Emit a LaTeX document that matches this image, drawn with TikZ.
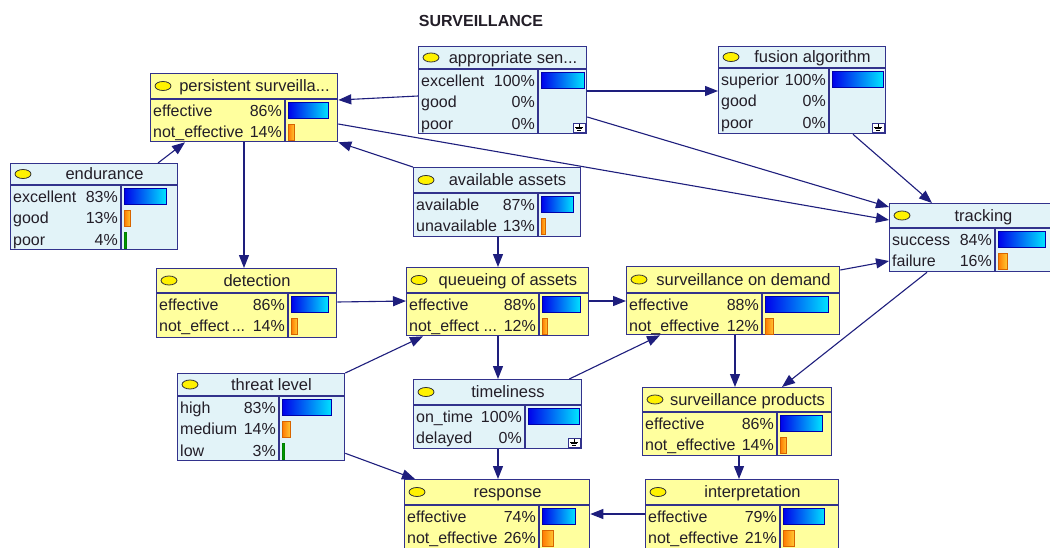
\documentclass[tikz,border=0pt]{standalone}
\usepackage{fontspec}
\setmainfont{Liberation Sans}
\usetikzlibrary{arrows.meta}
\definecolor{bfill}{RGB}{226,243,248}
\definecolor{yfill}{RGB}{255,255,158}
\definecolor{bord}{RGB}{50,50,140}
\definecolor{edgec}{RGB}{30,30,125}
\definecolor{txt}{RGB}{35,30,40}
\definecolor{barL}{RGB}{0,0,235}
\definecolor{barR}{RGB}{0,228,255}
\definecolor{barB}{RGB}{0,0,170}
\definecolor{orL}{RGB}{255,120,0}
\definecolor{orR}{RGB}{255,200,50}
\definecolor{orB}{RGB}{215,100,0}
\newcommand{\bnnode}[9]{%
  \node[#2, minimum width={(#5)-(#3)}, minimum height={(#6)-(#4)}] (#1) at (#3,#4) {};
  \draw[sepl] (#3,#7) -- (#5,#7) (#8,#7) -- (#8,#6);
  \draw[ico] ({#3+13},{(#4+#7)/2}) ellipse (8 and 4.5);
  \node[ttl] at ({(#3+22+#5)/2},{(#4+#7)/2+5.5}) {#9};
}
\newcommand{\st}[9]{%
  \node[lbl] at ({#1+3},{#4+11.5+21.8*#5+5.5}) {#6};
  \node[pct] at ({#2-3},{#4+11.5+21.8*#5+5.5}) {#7};
  \path[#8] ({#2+3},{#4+11.5+21.8*#5-8}) rectangle ({#2+3+#9*(#3-#2-5)/100},{#4+11.5+21.8*#5+8});
}
\newcommand{\expico}[2]{%
  \draw[draw=bord, line width=0.8pt, fill=white] ({#1-13},{#2-10}) rectangle ({#1-1},{#2-1});
  \draw[black, line width=0.7pt] ({#1-7},{#2-9}) -- ({#1-7},{#2-6})
    ({#1-11},{#2-6}) -- ({#1-3},{#2-6}) ({#1-10},{#2-4.5}) -- ({#1-4},{#2-4.5})
    ({#1-9},{#2-3}) -- ({#1-5},{#2-3});
}
\begin{document}
\begin{tikzpicture}[x=1pt,y=-1pt,
  font=\fontsize{16}{18}\selectfont,
  bn/.style={draw=bord, line width=1.3pt, fill=bfill, anchor=north west, inner sep=0pt},
  yn/.style={draw=bord, line width=1.3pt, fill=yfill, anchor=north west, inner sep=0pt},
  sepl/.style={draw=bord, line width=1.1pt},
  ico/.style={draw=black!80, fill=yellow, line width=0.8pt},
  ttl/.style={anchor=base, inner sep=0pt, text=txt, font=\fontsize{16.5}{18}\selectfont},
  lbl/.style={anchor=base west, inner sep=0pt, text=txt},
  pct/.style={anchor=base east, inner sep=0pt, text=txt},
  bb/.style={draw=barB, line width=0.8pt, left color=barL, right color=barR},
  ob/.style={draw=orB, line width=0.8pt, left color=orL, right color=orR},
  gb/.style={fill=green!60!black, draw=green!50!black, line width=0.3pt},
  conn/.style={draw=edgec, line width=1.1pt, -{Triangle[length=13pt,width=10pt]}}
]
\useasboundingbox (0,0) rectangle (1050,547);
\fill[white] (0,0) rectangle (1050,547);
\clip (0,0) rectangle (1050,547);

\node[font=\fontsize{16}{18}\selectfont\bfseries, text=txt, inner sep=0pt, anchor=base] (title) at (481,26) {SURVEILLANCE};

% persistent surveillance
\bnnode{ps}{yn}{150}{73}{337}{141}{99}{285}{persistent surveilla...}
\st{150}{285}{337}{99}{0}{effective}{86\%}{bb}{86}
\st{150}{285}{337}{99}{1}{not\_effective}{14\%}{ob}{14}
% appropriate sensors
\bnnode{as}{bn}{418}{46}{586}{133}{69}{538}{appropriate sen...}
\st{418}{538}{586}{69}{0}{excellent}{100\%}{bb}{100}
\st{418}{538}{586}{69}{1}{good}{0\%}{}{0}
\st{418}{538}{586}{69}{2}{poor}{0\%}{}{0}
\expico{586}{133}
% fusion algorithm
\bnnode{fa}{bn}{718}{46}{885}{133}{68}{829}{fusion algorithm}
\st{718}{829}{885}{68}{0}{superior}{100\%}{bb}{100}
\st{718}{829}{885}{68}{1}{good}{0\%}{}{0}
\st{718}{829}{885}{68}{2}{poor}{0\%}{}{0}
\expico{885}{133}
% tracking
\bnnode{tr}{bn}{889}{203}{1056}{271}{228}{995}{tracking}
\st{889}{995}{1056}{228}{0}{success}{84\%}{bb}{84}
\st{889}{995}{1056}{228}{1}{failure}{16\%}{ob}{16}
% endurance
\bnnode{en}{bn}{10}{163}{177}{249}{185}{121}{endurance}
\st{10}{121}{177}{185}{0}{excellent}{83\%}{bb}{83}
\st{10}{121}{177}{185}{1}{good}{13\%}{ob}{13}
\st{10}{121}{177}{185}{2}{poor}{4\%}{gb}{4}
% detection
\bnnode{de}{yn}{156}{268}{336}{337}{293}{288}{detection}
\st{156}{288}{336}{293}{0}{effective}{86\%}{bb}{86}
\st{156}{288}{336}{293}{1}{not\_effect\,...}{14\%}{ob}{14}
% available assets
\bnnode{aa}{bn}{413}{167}{580}{236}{193}{538}{available assets}
\st{413}{538}{580}{193}{0}{available}{87\%}{bb}{87}
\st{413}{538}{580}{193}{1}{unavailable}{13\%}{ob}{13}
% queueing of assets
\bnnode{qa}{yn}{406}{267}{588}{335}{293}{539}{queueing of assets}
\st{406}{539}{588}{293}{0}{effective}{88\%}{bb}{88}
\st{406}{539}{588}{293}{1}{not\_effect ...}{12\%}{ob}{12}
% surveillance on demand
\bnnode{sd}{yn}{626}{266}{839}{334}{293}{762}{surveillance on demand}
\st{626}{762}{839}{293}{0}{effective}{88\%}{bb}{88}
\st{626}{762}{839}{293}{1}{not\_effective}{12\%}{ob}{12}
% threat level
\bnnode{tl}{bn}{177}{373}{344}{460}{396}{279}{threat level}
\st{177}{279}{344}{396}{0}{high}{83\%}{bb}{83}
\st{177}{279}{344}{396}{1}{medium}{14\%}{ob}{14}
\st{177}{279}{344}{396}{2}{low}{3\%}{gb}{3}
% timeliness
\bnnode{ti}{bn}{413}{379}{581}{448}{405}{525}{timeliness}
\st{413}{525}{581}{405}{0}{on\_time}{100\%}{bb}{100}
\st{413}{525}{581}{405}{1}{delayed}{0\%}{}{0}
\expico{581}{448}
% response
\bnnode{re}{yn}{404}{479}{589}{552}{505}{539}{response}
\st{404}{539}{589}{505}{0}{effective}{74\%}{bb}{74}
\st{404}{539}{589}{505}{1}{not\_effective}{26\%}{ob}{26}
% surveillance products
\bnnode{sp}{yn}{642}{387}{831}{455}{412}{777}{surveillance products}
\st{642}{777}{831}{412}{0}{effective}{86\%}{bb}{86}
\st{642}{777}{831}{412}{1}{not\_effective}{14\%}{ob}{14}
% interpretation
\bnnode{in}{yn}{645}{479}{838}{552}{505}{780}{interpretation}
\st{645}{780}{838}{505}{0}{effective}{79\%}{bb}{79}
\st{645}{780}{838}{505}{1}{not\_effective}{21\%}{ob}{21}

% connectors
\draw[conn] ([yshift=-50pt]as.north west) -- ([yshift=-27pt]ps.north east);
\draw[conn] ([yshift=-45pt]as.north east) -- ([yshift=-45pt]fa.north west);
\draw[conn] ([yshift=-71pt]as.north east) -- ([yshift=-4pt]tr.north west);
\draw[conn] ([yshift=-51pt]ps.north east) -- ([yshift=-17pt]tr.north west);
\draw[conn] ([xshift=135pt]fa.south west) -- ([xshift=43pt]tr.north west);
\draw[conn] (aa.north west) -- (ps.south east);
\draw[conn] ([xshift=148pt]en.north west) -- ([xshift=35pt]ps.south west);
\draw[conn] ([xshift=94pt]ps.south west) -- ([xshift=88pt]de.north west);
\draw[conn] ([yshift=-34pt]de.north east) -- ([yshift=-34pt]qa.north west);
\draw[conn] ([xshift=85pt]aa.south west) -- ([xshift=92pt]qa.north west);
\draw[conn] ([yshift=-34pt]qa.north east) -- ([yshift=-35pt]sd.north west);
\draw[conn] (tl.north east) -- ([xshift=17pt]qa.south west);
\draw[conn] ([xshift=-13pt]ti.north east) -- ([xshift=34pt]sd.south west);
\draw[conn] ([xshift=92pt]qa.south west) -- ([xshift=85pt]ti.north west);
\draw[conn] ([xshift=85pt]ti.south west) -- ([xshift=94pt]re.north west);
\draw[conn] ([yshift=8pt]tl.south east) -- ([xshift=11pt]re.north west);
\draw[conn] ([yshift=-4pt]sd.north east) -- ([yshift=-58pt]tr.north west);
\draw[conn] ([xshift=38pt]tr.south west) -- ([xshift=140pt]sp.north west);
\draw[conn] ([xshift=109pt]sd.south west) -- ([xshift=93pt]sp.north west);
\draw[conn] ([xshift=97pt]sp.south west) -- ([xshift=94pt]in.north west);
\draw[conn] ([yshift=-35pt]in.north west) -- ([yshift=-35pt]re.north east);
\end{tikzpicture}
\end{document}
